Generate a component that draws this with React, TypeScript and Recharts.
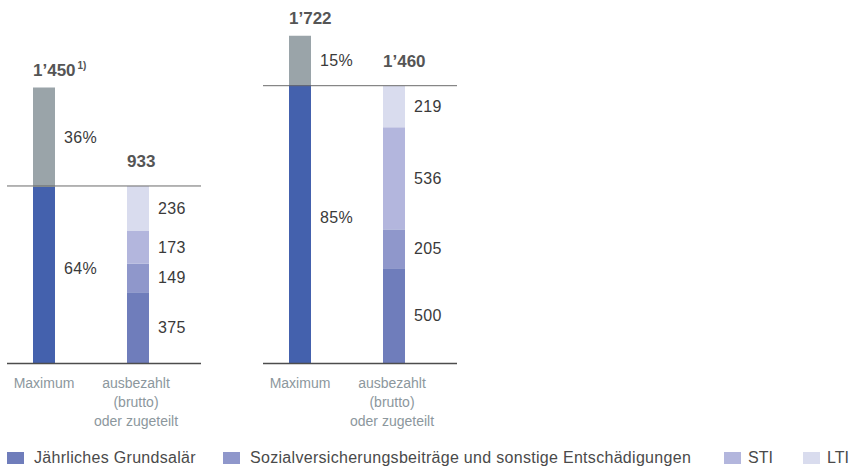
import { Bar, BarChart, LabelList, ReferenceLine, XAxis, YAxis } from "recharts";

const FONT = "'Liberation Sans', Arial, sans-serif";

// one entry per group (left, right)
const maximumTotals = [1450, 1722];
const fixedSharePct = [64, 85];
const maximumNotes = ["1)", ""];
const grundsalaer = [375, 500];
const sozialleistungen = [149, 205];
const stiValues = [173, 536];
const ltiValues = [236, 219];

const categories = ["Maximum", "ausbezahlt\n(brutto)\noder zugeteilt"];
const legendLabels = [
  "Jährliches Grundsalär",
  "Sozialversicherungsbeiträge und sonstige Entschädigungen",
  "STI",
  "LTI",
];

const COLORS = {
  fixed: "#4461ad",
  variable: "#9aa4a9",
  grund: "#6f7dbb",
  sozial: "#8f97cb",
  sti: "#b3b6dd",
  lti: "#d9dcee",
};
const legendColors = [COLORS.grund, COLORS.sozial, COLORS.sti, COLORS.lti];
const legendLeft = [7, 223, 724, 803];

function formatNumber(v: number) {
  if (v < 1000) return String(v);
  return `${Math.floor(v / 1000)}\u2019${String(v % 1000).padStart(3, "0")}`;
}

function buildRows(i: number) {
  const total = maximumTotals[i];
  const pct = fixedSharePct[i];
  const paid = grundsalaer[i] + sozialleistungen[i] + stiValues[i] + ltiValues[i];
  return [
    {
      name: categories[0],
      fixed: (total * pct) / 100,
      variable: (total * (100 - pct)) / 100,
      fixedLabel: `${pct}%`,
      variableLabel: `${100 - pct}%`,
      maxTotal: total,
    },
    {
      name: categories[1],
      grund: grundsalaer[i],
      sozial: sozialleistungen[i],
      sti: stiValues[i],
      lti: ltiValues[i],
      paidTotal: paid,
    },
  ];
}

function box(props: any) {
  const vb = props.viewBox ?? {};
  return {
    x: props.x ?? vb.x,
    y: props.y ?? vb.y,
    width: props.width ?? vb.width,
    height: props.height ?? vb.height,
  };
}

function makeSideLabel(shift = 0) {
  return function SideLabel(props: any) {
    const { value } = props;
    if (value === undefined || value === null || value === "") return null;
    const { x, y, width, height } = box(props);
    return (
      <text
        x={x + width + 9}
        y={y + height / 2 + shift}
        dominantBaseline="central"
        fontSize={16}
        letterSpacing={0.3}
        fontFamily={FONT}
        fill="#3a3a3a"
      >
        {value}
      </text>
    );
  };
}

const SideLabel = makeSideLabel();
const FixedLabel = makeSideLabel(-7);

function makeTopLabel(offset: number, note = "") {
  return function TopLabel(props: any) {
    const { value } = props;
    if (value === undefined || value === null) return null;
    const { x, y } = box(props);
    return (
      <text
        x={x}
        y={y - offset}
        dominantBaseline="central"
        fontSize={17}
        fontWeight="bold"
        fontFamily={FONT}
        fill="#555"
      >
        {formatNumber(Number(value))}
        {note ? (
          <tspan fontSize={10} dx={2} dy={-6}>
            {note}
          </tspan>
        ) : null}
      </text>
    );
  };
}

function CategoryTick(props: any) {
  const { x, y, payload } = props;
  const lines = String(payload.value).split("\n");
  const dx = lines.length > 1 ? -2 : 0;
  return (
    <g>
      {lines.map((line, i) => (
        <text
          key={i}
          x={x + dx}
          y={y + 19 + i * 19}
          textAnchor="middle"
          dominantBaseline="central"
          fontSize={14}
          fontFamily={FONT}
          fill="#8c979d"
        >
          {line}
        </text>
      ))}
    </g>
  );
}

function GroupChart({ index, left, marginLeft }: { index: number; left: number; marginLeft: number }) {
  const rows = buildRows(index);
  const paid = rows[1].paidTotal as number;
  const width = marginLeft + 194 + 30;
  const MaxTop = makeTopLabel(17, maximumNotes[index]);
  const PaidTop = makeTopLabel(24);
  return (
    <div style={{ position: "absolute", left, top: 0 }}>
      <BarChart
        width={width}
        height={469}
        data={rows}
        margin={{ top: 21, right: 30, bottom: 45.5, left: marginLeft }}
        barSize={22}
      >
        <YAxis hide domain={[0, 1800]} />
        <XAxis
          dataKey="name"
          height={60}
          interval={0}
          tickLine={false}
          tickSize={0}
          tickMargin={0}
          axisLine={{ stroke: "#4d4d4d", strokeWidth: 1.5 }}
          padding={{ left: -10, right: 16 }}
          tick={<CategoryTick />}
        />
        <ReferenceLine y={paid} stroke="#6b6b6b" strokeWidth={1} />
        <Bar dataKey="fixed" stackId="s" fill={COLORS.fixed} isAnimationActive={false}>
          <LabelList dataKey="fixedLabel" content={<FixedLabel />} />
        </Bar>
        <Bar dataKey="variable" stackId="s" fill={COLORS.variable} isAnimationActive={false}>
          <LabelList dataKey="variableLabel" content={<SideLabel />} />
          <LabelList dataKey="maxTotal" content={<MaxTop />} />
        </Bar>
        <Bar dataKey="grund" stackId="s" fill={COLORS.grund} isAnimationActive={false}>
          <LabelList dataKey="grund" content={<SideLabel />} />
        </Bar>
        <Bar dataKey="sozial" stackId="s" fill={COLORS.sozial} isAnimationActive={false}>
          <LabelList dataKey="sozial" content={<SideLabel />} />
        </Bar>
        <Bar dataKey="sti" stackId="s" fill={COLORS.sti} isAnimationActive={false}>
          <LabelList dataKey="sti" content={<SideLabel />} />
        </Bar>
        <Bar dataKey="lti" stackId="s" fill={COLORS.lti} isAnimationActive={false}>
          <LabelList dataKey="lti" content={<SideLabel />} />
          <LabelList dataKey="paidTotal" content={<PaidTop />} />
        </Bar>
      </BarChart>
    </div>
  );
}

export default function App() {
  return (
    <div
      style={{
        position: "absolute",
        left: 0,
        top: 0,
        width: 853,
        height: 469,
        background: "#fff",
        fontFamily: FONT,
      }}
    >
      <GroupChart index={0} left={0} marginLeft={7} />
      <GroupChart index={1} left={250} marginLeft={13} />
      {legendLabels.map((label, i) => {
        const short = i >= 2;
        return (
          <div
            key={label}
            style={{
              position: "absolute",
              left: legendLeft[i],
              top: 449,
              display: "flex",
              alignItems: "center",
              fontSize: 16,
              letterSpacing: short ? 0 : 0.3,
              color: "#4a4a4a",
              whiteSpace: "nowrap",
            }}
          >
            <span
              style={{
                display: "inline-block",
                width: 17,
                height: 12,
                background: legendColors[i],
                marginRight: short ? 7 : 10,
              }}
            />
            <span>{label}</span>
          </div>
        );
      })}
    </div>
  );
}
